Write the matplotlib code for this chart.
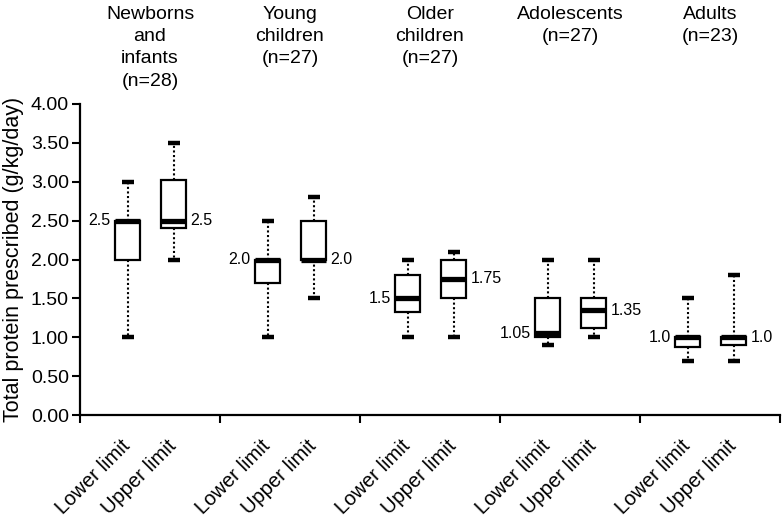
import matplotlib
matplotlib.use("Agg")
import matplotlib.pyplot as plt
import matplotlib.transforms as mtransforms
import numpy as np

plt.rcParams['font.family'] = ['Liberation Sans', 'DejaVu Sans']

# ---- data ----
groups = ["Newborns\nand\ninfants\n(n=28)", "Young\nchildren\n(n=27)",
          "Older\nchildren\n(n=27)", "Adolescents\n(n=27)", "Adults\n(n=23)"]
box_labels = ["Lower limit", "Upper limit"]

# lower-limit boxes (per group)
low_whislo = [1.0, 1.0, 1.0, 0.9, 0.7]
low_q1     = [2.0, 1.7, 1.33, 1.0, 0.87]
low_med    = [2.5, 2.0, 1.5, 1.05, 1.0]
low_q3     = [2.5, 2.0, 1.8, 1.5, 1.0]
low_whishi = [3.0, 2.5, 2.0, 2.0, 1.5]
low_text   = ["2.5", "2.0", "1.5", "1.05", "1.0"]

# upper-limit boxes (per group)
up_whislo = [2.0, 1.5, 1.0, 1.0, 0.7]
up_q1     = [2.4, 2.0, 1.51, 1.12, 0.9]
up_med    = [2.5, 2.0, 1.75, 1.35, 1.0]
up_q3     = [3.02, 2.5, 2.0, 1.5, 1.0]
up_whishi = [3.5, 2.8, 2.1, 2.0, 1.8]
up_text   = ["2.5", "2.0", "1.75", "1.35", "1.0"]

yticks = [0.0, 0.5, 1.0, 1.5, 2.0, 2.5, 3.0, 3.5, 4.0]

# ---- figure ----
fig = plt.figure(figsize=(7.82, 5.17), dpi=100)
ax = fig.add_axes([80/782, 1-415/517, 700/782, 311/517])

n = len(groups)
pos_low = np.arange(n) + 0.34
pos_up = np.arange(n) + 0.67

stats = []
positions = []
for i in range(n):
    stats.append(dict(whislo=low_whislo[i], q1=low_q1[i], med=low_med[i],
                      q3=low_q3[i], whishi=low_whishi[i], fliers=[]))
    positions.append(pos_low[i])
    stats.append(dict(whislo=up_whislo[i], q1=up_q1[i], med=up_med[i],
                      q3=up_q3[i], whishi=up_whishi[i], fliers=[]))
    positions.append(pos_up[i])

ax.bxp(stats, positions=positions, widths=0.18, capwidths=0.085,
       showfliers=False, patch_artist=True,
       boxprops=dict(facecolor='white', edgecolor='black', linewidth=1.6),
       medianprops=dict(color='black', linewidth=3.8, solid_capstyle='butt'),
       whiskerprops=dict(color='black', linewidth=1.5, linestyle=(0, (1, 1.2))),
       capprops=dict(color='black', linewidth=3.2, solid_capstyle='butt'))

# median labels
for i in range(n):
    ax.annotate(low_text[i], xy=(pos_low[i] - 0.09, low_med[i]),
                xytext=(-3, 0), textcoords='offset points',
                ha='right', va='center', fontsize=11.5)
    ax.annotate(up_text[i], xy=(pos_up[i] + 0.09, up_med[i]),
                xytext=(3, 0), textcoords='offset points',
                ha='left', va='center', fontsize=11.5)

ax.set_xlim(0, n)
ax.set_ylim(0, 4.0)
ax.set_yticks(yticks)
ax.set_yticklabels([f"{v:.2f}" for v in yticks], fontsize=14)
ax.set_ylabel("Total protein prescribed (g/kg/day)", fontsize=15.5, labelpad=5)

ax.set_xticks(np.arange(n + 1))
ax.set_xticklabels([])
ax.set_xticks(positions, minor=True)
ax.set_xticklabels([box_labels[k % 2] for k in range(2 * n)], minor=True,
                   rotation=45, ha='right', va='center', rotation_mode='anchor',
                   fontsize=14.5)
ax.tick_params(axis='x', which='minor', length=0, pad=20)
ax.tick_params(axis='x', which='major', length=6, width=1.5, direction='out')
ax.tick_params(axis='y', length=6, width=1.5, direction='out', pad=2)

for s in ['top', 'right']:
    ax.spines[s].set_visible(False)
for s in ['left', 'bottom']:
    ax.spines[s].set_linewidth(1.6)

# group titles above
trans = mtransforms.blended_transform_factory(ax.transData, fig.transFigure)
for i, g in enumerate(groups):
    ax.text(i + 0.5, 1 - 6/517, g, transform=trans, ha='center', va='top',
            fontsize=14, linespacing=1.4, multialignment='center')

fig.savefig("out.png", dpi=100)
